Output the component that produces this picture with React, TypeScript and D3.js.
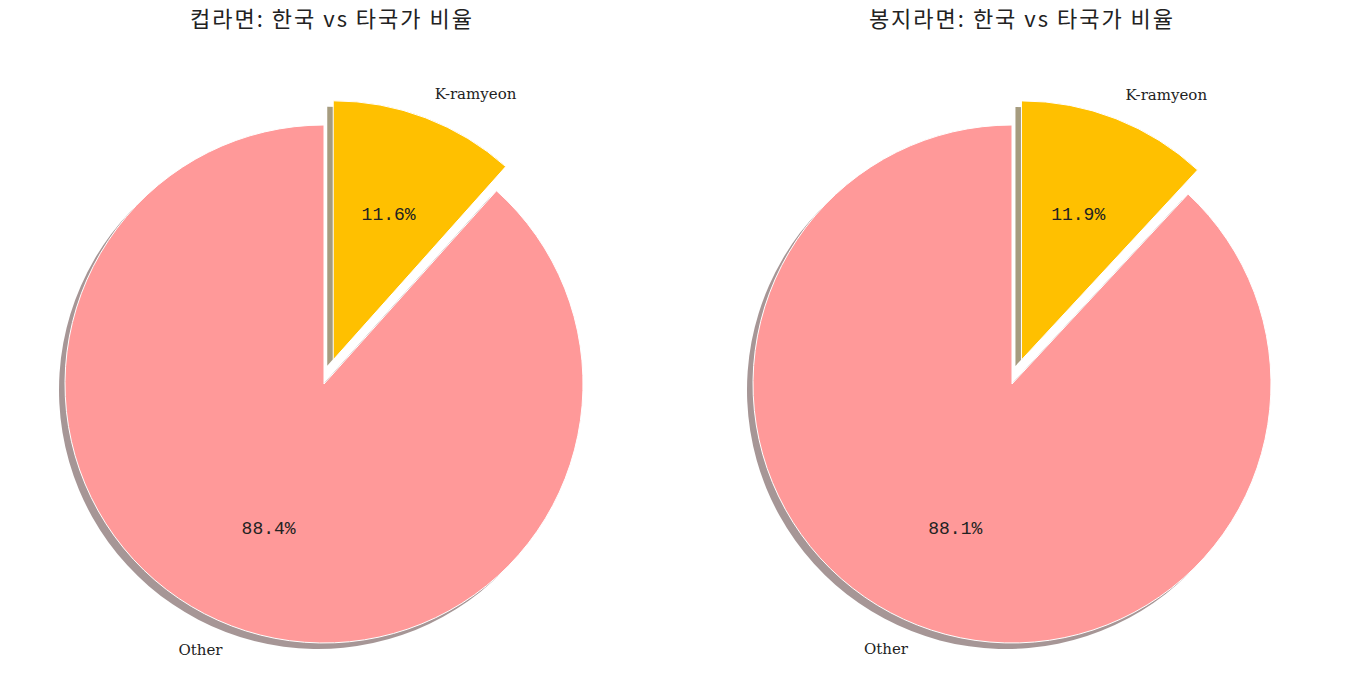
import * as d3 from "d3";

const chartTitles = ["컵라면: 한국 vs 타국가 비율", "봉지라면: 한국 vs 타국가 비율"];
const sliceLabels = ["K-ramyeon", "Other"];
const cupShares = [11.6, 88.4];
const bagShares = [11.9, 88.1];
const sliceColors = ["#ffc000", "#ff9999"];

const W = 1355;
const H = 694;
const R = 259;
const panels = [
  { title: chartTitles[0], values: cupShares, cx: 324, cy: 384, tx: 332 },
  { title: chartTitles[1], values: bagShares, cx: 1012, cy: 384, tx: 1022 },
];

// matplotlib-like shadow: facecolor * 0.3 at half alpha
const shadowOf = (c: string) => {
  const rgb = d3.rgb(c);
  return d3.rgb(rgb.r * 0.3, rgb.g * 0.3, rgb.b * 0.3).toString();
};

type Panel = (typeof panels)[number];

const Pie = ({ p }: { p: Panel }) => {
  const pie = d3
    .pie<number>()
    .sort(null)
    .value((d) => d);
  const arcs = pie(p.values);
  const arc = d3.arc<d3.PieArcDatum<number>>().innerRadius(0).outerRadius(R);
  const explode = [0.1, 0];

  const offs = arcs.map((a, i) => {
    const mid = (a.startAngle + a.endAngle) / 2;
    return {
      mid,
      dx: Math.sin(mid) * explode[i] * R,
      dy: -Math.cos(mid) * explode[i] * R,
    };
  });

  return (
    <g>
      <text
        x={p.tx}
        y={27}
        textAnchor="middle"
        fontFamily="'Noto Sans CJK KR', sans-serif"
        fontSize={22}
        letterSpacing={2}
        fill="#222"
      >
        {p.title}
      </text>
      <g transform={`translate(${p.cx},${p.cy})`}>
        {arcs.map((a, i) => (
          <path
            key={"s" + i}
            d={arc(a) ?? ""}
            transform={`translate(${offs[i].dx - 6},${offs[i].dy + 6})`}
            fill={shadowOf(sliceColors[i])}
            fillOpacity={0.5}
          />
        ))}
        {arcs.map((a, i) => (
          <path
            key={"w" + i}
            d={arc(a) ?? ""}
            transform={`translate(${offs[i].dx},${offs[i].dy})`}
            fill={sliceColors[i]}
            stroke="#fff"
            strokeWidth={1}
          />
        ))}
        {arcs.map((a, i) => {
          const { mid, dx, dy } = offs[i];
          const lx = dx + Math.sin(mid) * 1.1 * R;
          const ly = dy - Math.cos(mid) * 1.1 * R;
          const px = dx + Math.sin(mid) * 0.6 * R;
          const py = dy - Math.cos(mid) * 0.6 * R;
          return (
            <g key={"t" + i}>
              <text
                x={lx}
                y={ly}
                textAnchor={lx > 0 ? "start" : "end"}
                dominantBaseline="central"
                fontFamily="'DejaVu Serif', serif"
                fontSize={15}
                fill="#222"
              >
                {sliceLabels[i]}
              </text>
              <text
                x={px}
                y={py}
                textAnchor="middle"
                dominantBaseline="central"
                fontFamily="'Liberation Mono', monospace"
                fontSize={18}
                fill="#222"
              >
                {`${a.data.toFixed(1)}%`}
              </text>
            </g>
          );
        })}
      </g>
    </g>
  );
};

export default function App() {
  return (
    <svg
      width={W}
      height={H}
      style={{ position: "absolute", left: 0, top: 0, background: "#fff" }}
    >
      {panels.map((p, i) => (
        <Pie key={i} p={p} />
      ))}
    </svg>
  );
}
